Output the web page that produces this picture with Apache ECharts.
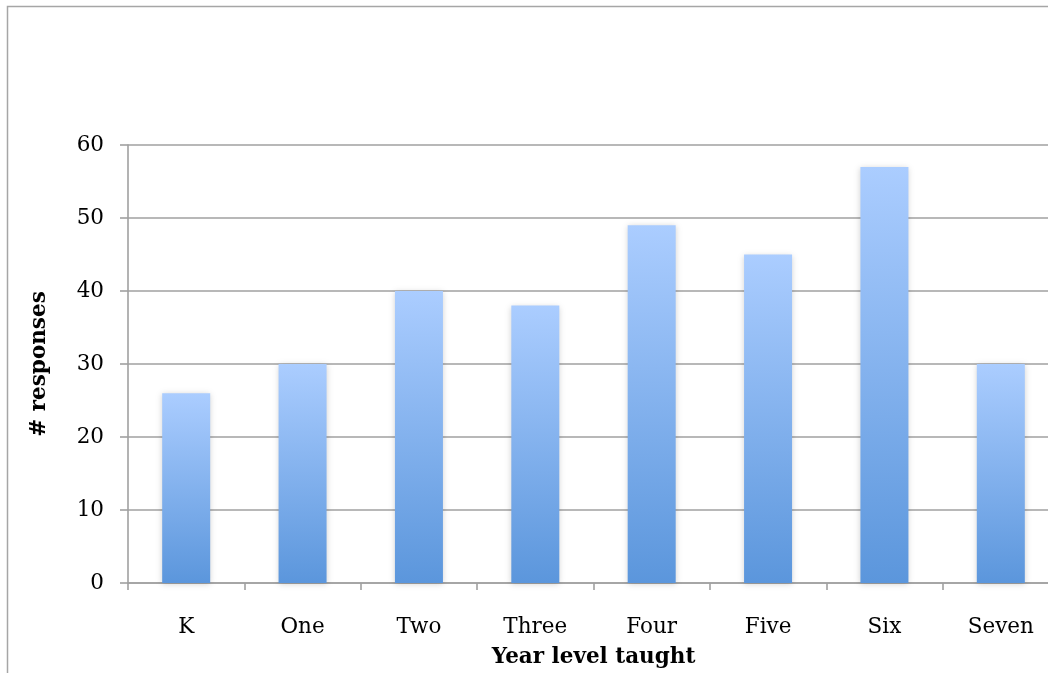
<!DOCTYPE html>
<html>
<head>
<meta charset="utf-8">
<script src="https://cdn.jsdelivr.net/npm/echarts@6/dist/echarts.min.js"></script>
<style>
  html, body { margin: 0; padding: 0; background: #fff; overflow: hidden; }
  #chart { width: 1100px; height: 673px; }
</style>
</head>
<body>
<div id="chart"></div>
<script>
// Survey responses by year level taught
const categories = ['K', 'One', 'Two', 'Three', 'Four', 'Five', 'Six', 'Seven'];
const responses = [26, 30, 40, 38, 49, 45, 57, 30];
const yTicks = { min: 0, max: 60, interval: 10 };

const serif = '"DejaVu Serif", "Liberation Serif", serif';
const gridGray = '#a0a0a0';

const chart = echarts.init(document.getElementById('chart'), null, { renderer: 'canvas' });
chart.setOption({
  animation: false,
  backgroundColor: '#fff',
  graphic: [{
    type: 'rect',
    shape: { x: 7.5, y: 6.5, width: 1200, height: 800 },
    style: { fill: 'none', stroke: '#a6a6a6', lineWidth: 1.5 },
    silent: true,
    z: -1
  }],
  grid: { left: 128, top: 145, right: 41, bottom: 90, containLabel: false },
  xAxis: {
    type: 'category',
    data: categories,
    name: 'Year level taught',
    nameLocation: 'middle',
    nameGap: 63,
    nameTextStyle: { fontFamily: serif, fontWeight: 'bold', fontSize: 21.5, color: '#000' },
    axisLine: { lineStyle: { color: gridGray, width: 1.6 } },
    axisTick: { show: true, length: 7, alignWithLabel: false, lineStyle: { color: gridGray, width: 1.6 } },
    axisLabel: { fontFamily: serif, fontSize: 21.5, color: '#000', margin: 33 },
    splitLine: { show: false }
  },
  yAxis: {
    type: 'value',
    min: yTicks.min,
    max: yTicks.max,
    interval: yTicks.interval,
    name: '# responses',
    nameLocation: 'middle',
    nameGap: 78,
    nameRotate: 90,
    nameTextStyle: { fontFamily: serif, fontWeight: 'bold', fontSize: 21.5, color: '#000' },
    axisLine: { show: true, lineStyle: { color: gridGray, width: 1.6 } },
    axisTick: { show: true, length: 8, lineStyle: { color: gridGray, width: 1.6 } },
    axisLabel: { fontFamily: serif, fontSize: 21.5, color: '#000', margin: 24 },
    splitLine: { show: true, lineStyle: { color: gridGray, width: 1.6 } }
  },
  series: [{
    type: 'bar',
    data: responses,
    barWidth: 48,
    itemStyle: {
      color: new echarts.graphic.LinearGradient(0, 0, 0, 1, [
        { offset: 0, color: '#abcdff' },
        { offset: 1, color: '#5b96dc' }
      ]),
      shadowColor: 'rgba(0,0,0,0.18)',
      shadowBlur: 6,
      shadowOffsetX: 0,
      shadowOffsetY: 1
    }
  }]
});
</script>
</body>
</html>
